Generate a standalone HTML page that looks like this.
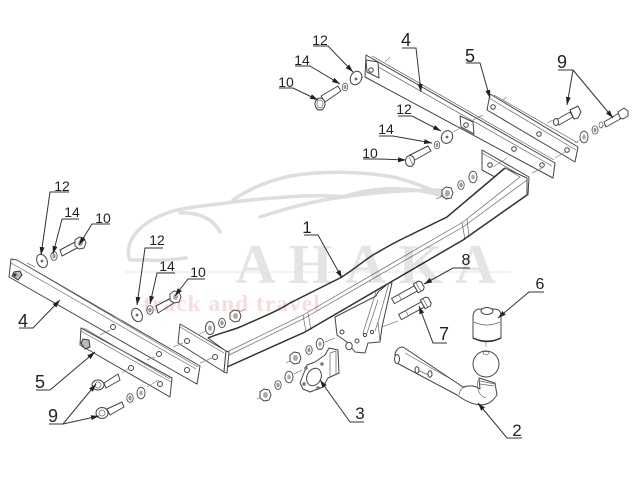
<!DOCTYPE html>
<html><head><meta charset="utf-8"><style>
html,body{margin:0;padding:0;background:#fff}
svg{display:block;filter:blur(.35px)}
text{font-family:"Liberation Sans",sans-serif;fill:#222;font-size:16px;text-anchor:middle}
.l{stroke:#333;stroke-width:1;fill:none}
.p{stroke:#444;stroke-width:1;fill:#fff;stroke-linejoin:round}
.t{stroke:#666;stroke-width:.7;fill:none}
.c{stroke:#888;stroke-width:.7;fill:none}
.w{stroke:#dedede;stroke-width:3.5;fill:none;stroke-linecap:round}
.s{stroke:#333;stroke-width:1.5;fill:none}
</style></head><body>
<svg width="640" height="480" viewBox="0 0 640 480" xmlns="http://www.w3.org/2000/svg">
<defs>
<marker id="a" viewBox="0 0 8 6" refX="8" refY="3" markerWidth="8" markerHeight="6" orient="auto" markerUnits="userSpaceOnUse"><path d="M0 .5L8 3L0 5.5z" fill="#222"/></marker>
<g id="bolt"><path class="p" d="M0-3H26V3H0z"/><path class="p" d="M26-5H32L34-3V3L32 5H26z"/><path class="t" d="M8-3V3M29-5V5"/></g>
<g id="nut"><ellipse class="p" cx="0" cy="0" rx="4" ry="5.5"/><ellipse cx="0" cy="0" rx="2" ry="3" fill="#999"/></g>
<g id="wash"><ellipse class="p" cx="0" cy="0" rx="4.5" ry="6.5"/><ellipse cx="0" cy="0" rx="2" ry="2.8" fill="#aaa"/></g>
<g id="hex"><path class="p" d="M-5-3L-1-6L4-5L6 0L4 5L-1 6L-5 3z" fill="#e4e4e4"/><ellipse cx=".5" cy="0" rx="2.5" ry="3" fill="#aaa"/></g>
</defs>

<!-- left plate 4 -->
<path class="p" d="M11 259L17 260L200 366L197 384L195 383L9 277z"/>
<path class="t" d="M17 260L198 367M11 263L196 369"/>
<path d="M12 276L14 272L20 271L22 275L18 280z" fill="#bbb" stroke="#333" stroke-width="1"/>
<circle cx="15" cy="275" r="1.6" fill="#333"/>
<circle class="p" cx="113" cy="327" r="2.5"/>
<circle class="p" cx="159" cy="354" r="2.5"/>
<circle class="p" cx="187" cy="370" r="2.5"/>

<!-- left plate 5 -->
<path class="p" d="M81 328L172 378L170 397L80 345z"/>
<path class="t" d="M84 328L170 379M81 331L171 382"/>
<path d="M81 343L83 339L89 340L90 347L85 349z" fill="#bbb" stroke="#333" stroke-width="1"/>
<circle class="p" cx="131" cy="368" r="2.5"/>
<circle class="p" cx="160" cy="384" r="2.5"/>

<!-- right flange -->
<path class="p" d="M482 150L529 177L528 195L482 170z"/>
<path class="t" d="M482 153L527 179"/>
<circle class="p" cx="490" cy="165" r="2.3"/>

<!-- main bar -->
<path class="p" d="M208 338C220 333 230 331 240 327C260 318 276 312 290 303L340 278C352 271 362 262 373 255C385 248 392 244 400 240L447 217L505 168L527 178L527 195L463 240L305 332L227 367L227 352z"/>
<path class="t" d="M227 352L303 315L463 222L520 177"/>
<path class="t" d="M227 356L303 319L463 227L527 180"/>
<path class="t" d="M303 315L306 332M308 313L311 330"/>
<path class="t" d="M462 222L465 240M467 219L469 237"/>
<path class="t" d="M505 168L520 177"/>
<path class="s" d="M208 338C220 333 230 331 240 327C260 318 276 312 290 303L340 278C352 271 362 262 373 255C385 248 392 244 400 240L447 217L505 168"/>
<path class="s" d="M227 367L305 332L463 240L527 195"/>

<!-- left flange -->
<path class="p" d="M180 324L226 351L224 372L178 343z"/>
<path class="t" d="M180 327L224 353"/>
<path class="p" d="M226 351L229 352L227 373L224 372z"/>
<circle class="p" cx="187" cy="341" r="2.5"/>
<circle class="p" cx="215" cy="357" r="2.5"/>

<!-- right plate 4 -->
<path class="p" d="M366 55L555 163L553 178L365 77z"/>
<path class="t" d="M372 56L554 160M366 60L552 166"/>
<path class="p" d="M366 60L378 62L379 78L367 72z"/>
<circle class="p" cx="371" cy="70" r="2.3"/>
<path class="p" d="M460 116L473 122L474 134L461 127z"/>
<circle class="p" cx="466" cy="125" r="2.3"/>
<circle class="p" cx="514" cy="149" r="2.3"/>
<circle class="p" cx="542" cy="165" r="2.3"/>

<!-- right plate 5 -->
<path class="p" d="M490 94L578 147L575 162L487 110z"/>
<path class="t" d="M494 95L578 143M489 98L576 150"/>
<circle class="p" cx="493" cy="107" r="2.3"/>
<circle class="p" cx="539" cy="134" r="2.3"/>
<circle class="p" cx="567" cy="150" r="2.3"/>

<!-- thin centre lines -->
<path class="c" d="M27 263L35 267M115 317L125 322M100 335L110 330M147 360L155 357M173 347L183 343M200 363L212 358M147 387L159 380M122 373L129 368M198 335L207 330"/>
<path class="c" d="M385 62L390 57M503 100L507 97M363 77L360 80M460 128L453 132M483 115L473 120M507 158L493 167M532 173L542 168M555 158L565 152M547 123L553 120M575 143L580 140M600 128L605 125M440 197L443 195"/>

<!-- bracket under bar -->
<path class="p" d="M335 317L376 296L378 292L389 283L392 283L382 327L380 342L368 343L365 353L355 352L347 342L337 335z"/>
<path class="t" d="M376 292L363 333L365 336M378 300L367 333M389 283L378 322L380 342M378 322L375 331"/>
<circle class="p" cx="342" cy="332" r="2"/>
<circle class="p" cx="357" cy="341" r="2"/>
<ellipse class="p" cx="349" cy="346" rx="3.2" ry="3.8"/>
<circle class="p" cx="365" cy="335" r="1.6"/>
<circle class="p" cx="372" cy="332" r="1.6"/>
<path class="c" d="M382 327L398 321"/>

<!-- plate 3 -->
<path class="p" d="M300 383L307 365L315 362L325 355L329 348L338 350L339 373L328 378L323 387L310 392L303 389z"/>
<path class="t" d="M330 353V377M336 351V375M330 353L336 351"/>
<ellipse class="p" cx="314" cy="377" rx="7" ry="9" transform="rotate(25 314 377)"/>
<circle class="p" cx="322" cy="364" r="1.1"/><circle class="p" cx="306" cy="368" r="1.1"/><circle class="p" cx="304" cy="384" r="1.1"/><circle class="p" cx="318" cy="388" r="1.1"/>

<!-- tow arm -->
<path class="p" d="M395 354Q397 347 403 347L463 387C470 385 476 386 480 389L479 378L495 383L497 395L493 400C485 408 472 406 457 395L395 362z"/>
<ellipse class="p" cx="397" cy="359" rx="2.5" ry="4.5" fill="#ccc"/>
<path class="t" d="M405 353L447 377M415 369L431 376"/>
<ellipse class="p" cx="417" cy="370" rx="2" ry="3.2" fill="#bbb"/>
<ellipse class="p" cx="430" cy="374" rx="2" ry="3.2" fill="#bbb"/>
<path class="t" d="M459 395C460 389 463 387 466 387M478 380C476 390 480 396 486 398"/>
<path class="t" d="M480 381L495 384M480 384L494 386"/>
<circle class="p" cx="486" cy="364" r="13"/>
<path class="c" d="M486 347V337"/>
<ellipse class="t" cx="486" cy="353" rx="3" ry="1.5"/>
<!-- cap -->
<path class="p" d="M473 316Q474 309 480 309H494Q501 309 501 316V338Q487 344 473 338z"/>
<path class="t" d="M474 322Q487 328 500 322"/>
<ellipse class="p" cx="487" cy="311" rx="6" ry="3.5" fill="#e0e0e0"/>
<path class="s" d="M473 338Q487 345 501 338"/>

<!-- long bolts 7, 8 -->
<use href="#bolt" transform="translate(393 301) rotate(-29)"/>
<use href="#bolt" transform="translate(400 317) rotate(-29)"/>

<!-- hardware left top -->
<ellipse class="p" cx="42" cy="261" rx="5" ry="7" transform="rotate(-25 42 261)"/><circle cx="42" cy="261" r="1.4" fill="#666"/>
<use href="#nut" transform="translate(54 256) scale(.8)"/>
<path class="p" d="M60 250L77 241L79 247L62 256z"/>
<use href="#hex" transform="translate(80 243)"/>

<ellipse class="p" cx="137" cy="315" rx="5" ry="7" transform="rotate(-25 137 315)"/><circle cx="137" cy="315" r="1.4" fill="#666"/>
<use href="#nut" transform="translate(150 310) scale(.8)"/>
<path class="p" d="M156 306L171 298L174 303L158 313z"/>
<use href="#hex" transform="translate(175 297)"/>

<!-- hardware bar left -->
<use href="#wash" transform="translate(210 328)"/>
<use href="#nut" transform="translate(222 323) scale(.85)"/>
<use href="#hex" transform="translate(235 316)"/>
<path class="c" d="M240 312L245 309"/>

<!-- hardware bar right -->
<use href="#hex" transform="translate(447 193)"/>
<use href="#nut" transform="translate(461 185) scale(.8)"/>
<use href="#wash" transform="translate(473 177) scale(.9)"/>
<path class="c" d="M441 197L436 199"/>

<!-- hardware top group -->
<ellipse class="p" cx="356" cy="78" rx="5.5" ry="7" transform="rotate(25 356 78)"/><circle cx="356" cy="79" r="1.4" fill="#666"/>
<use href="#nut" transform="translate(345 87) scale(.7)"/>
<path class="p" d="M321 96L338 86L341 91L325 102z"/>
<ellipse class="p" cx="320" cy="104" rx="5" ry="6"/><ellipse class="t" cx="320" cy="104" rx="3" ry="4"/>

<ellipse class="p" cx="447" cy="137" rx="5.5" ry="6.5" transform="rotate(25 447 137)"/><circle cx="447" cy="137" r="1.4" fill="#666"/>
<use href="#nut" transform="translate(437 145) scale(.7)"/>
<path class="p" d="M410 155L428 146L431 151L413 161z"/>
<ellipse class="p" cx="410" cy="161" rx="4.5" ry="5.5"/><path class="t" d="M409 157L413 165"/>

<!-- 9 bolts right -->
<path class="p" d="M556 120L570 112L573 117L559 125z"/>
<path class="p" d="M570 110L578 106L581 112L578 118L574 119z"/>
<ellipse class="p" cx="556" cy="122" rx="2.5" ry="3.5"/>
<path class="p" d="M604 122L619 113L622 118L606 127z"/>
<path class="p" d="M618 112L624 108L628 111L628 116L623 119L620 118z"/>
<ellipse class="t" cx="601" cy="125" rx="2" ry="3"/>
<use href="#wash" transform="translate(584 137) scale(.9)"/>
<use href="#nut" transform="translate(595 130) scale(.75)"/>

<!-- 9 bolts left -->
<path class="p" d="M104 383L118 374L120 380L106 388z"/>
<ellipse class="p" cx="98" cy="385" rx="6" ry="5"/><ellipse class="t" cx="98" cy="385" rx="3" ry="3"/>
<path class="p" d="M107 409L122 402L124 407L110 415z"/>
<ellipse class="p" cx="102" cy="413" rx="6" ry="5.5"/><ellipse class="t" cx="102" cy="413" rx="3" ry="3"/>
<use href="#nut" transform="translate(130 398) scale(.8)"/>
<use href="#wash" transform="translate(141 393) scale(.9)"/>

<!-- hardware centre -->
<use href="#hex" transform="translate(295 358)"/>
<use href="#nut" transform="translate(309 350) scale(.8)"/>
<use href="#wash" transform="translate(320 344) scale(.85)"/>
<path class="c" d="M325 342L335 338M290 361L286 363"/>
<use href="#hex" transform="translate(265 395)"/>
<use href="#nut" transform="translate(278 385) scale(.8)"/>
<use href="#wash" transform="translate(289 377) scale(.9)"/>
<path class="c" d="M294 374L302 370M259 398L257 399"/>

<!-- watermark -->
<g style="mix-blend-mode:multiply">
<path class="w" d="M129 258C125 240 140 222 170 212C190 206 215 205 233 202C275 197 320 194 343 197C375 186 410 186 447 197"/>
<path class="w" d="M233 200C245 192 260 183 290 176C327 170 365 172 393 177C415 182 432 190 447 197" stroke-width="3"/>
<path class="w" d="M260 217C290 207 320 200 343 197C375 192 410 190 440 190" stroke-width="3"/>
<path class="w" d="M130 260H147M147 260C165 262 180 258 186 258" stroke-width="3"/>
<path class="w" d="M180 213C200 212 214 220 220 232" stroke-width="3"/>
<path d="M125 272H510" stroke="#e6e6e6" stroke-width="1"/>
<text x="372" y="283" style="font-family:'Liberation Serif',serif;font-size:56px;fill:#e4e4e4;letter-spacing:13px;font-weight:bold">AHAKA</text>
<text x="232" y="311" style="font-family:'Liberation Serif',serif;font-size:23px;fill:#f8dcdc;font-weight:bold;letter-spacing:1.2px">track and travel</text>
</g>

<!-- leaders -->
<g class="l">
<path d="M69 192H50L41 255" marker-end="url(#a)"/>
<path d="M79 219H62L53 254" marker-end="url(#a)"/>
<path d="M110 224H92L79 245" marker-end="url(#a)"/>
<path d="M163 248H145L137 305" marker-end="url(#a)"/>
<path d="M175 273H157L150 304" marker-end="url(#a)"/>
<path d="M205 279H188L175 296" marker-end="url(#a)"/>
<path d="M304 235H318L342 278" marker-end="url(#a)"/>
<path d="M19 328H33L60 300" marker-end="url(#a)"/>
<path d="M36 390H50L95 352" marker-end="url(#a)"/>
<path d="M49 424H63L96 384" marker-end="url(#a)"/>
<path d="M63 424L99 416" marker-end="url(#a)"/>
<path d="M313 46H328L353 72" marker-end="url(#a)"/>
<path d="M295 66H310L340 84" marker-end="url(#a)"/>
<path d="M279 88H293L318 100" marker-end="url(#a)"/>
<path d="M402 48H416L421 92" marker-end="url(#a)"/>
<path d="M466 63H480L490 98" marker-end="url(#a)"/>
<path d="M558 70H573L567 105" marker-end="url(#a)"/>
<path d="M573 70L613 118" marker-end="url(#a)"/>
<path d="M398 116H412L441 131" marker-end="url(#a)"/>
<path d="M379 136H393L432 143" marker-end="url(#a)"/>
<path d="M363 159H378L406 160" marker-end="url(#a)"/>
<path d="M470 268H453L424 284" marker-end="url(#a)"/>
<path d="M447 343H433L419 306" marker-end="url(#a)"/>
<path d="M544 292H529L498 318" marker-end="url(#a)"/>
<path d="M364 422H350L320 380" marker-end="url(#a)"/>
<path d="M522 438H507L478 403" marker-end="url(#a)"/>
</g>

<!-- labels -->
<text x="62" y="191" style="font-size:14px">12</text>
<text x="72" y="217" style="font-size:14px">14</text>
<text x="103" y="223" style="font-size:14px">10</text>
<text x="157" y="245" style="font-size:14px">12</text>
<text x="167" y="271" style="font-size:14px">14</text>
<text x="198" y="277" style="font-size:14px">10</text>
<text x="307" y="233" style="font-size:17px">1</text>
<text x="23" y="327" style="font-size:18px">4</text>
<text x="40" y="388" style="font-size:18px">5</text>
<text x="53" y="422" style="font-size:18px">9</text>
<text x="320" y="45" style="font-size:14px">12</text>
<text x="302" y="65" style="font-size:14px">14</text>
<text x="286" y="87" style="font-size:14px">10</text>
<text x="406" y="46" style="font-size:18px">4</text>
<text x="470" y="62" style="font-size:18px">5</text>
<text x="562" y="68" style="font-size:18px">9</text>
<text x="404" y="114" style="font-size:14px">12</text>
<text x="386" y="134" style="font-size:14px">14</text>
<text x="370" y="158" style="font-size:14px">10</text>
<text x="466" y="265" style="font-size:16px">8</text>
<text x="444" y="340" style="font-size:18px">7</text>
<text x="540" y="289" style="font-size:16px">6</text>
<text x="360" y="419" style="font-size:17px">3</text>
<text x="517" y="436" style="font-size:17px">2</text>
</svg>
</body></html>
